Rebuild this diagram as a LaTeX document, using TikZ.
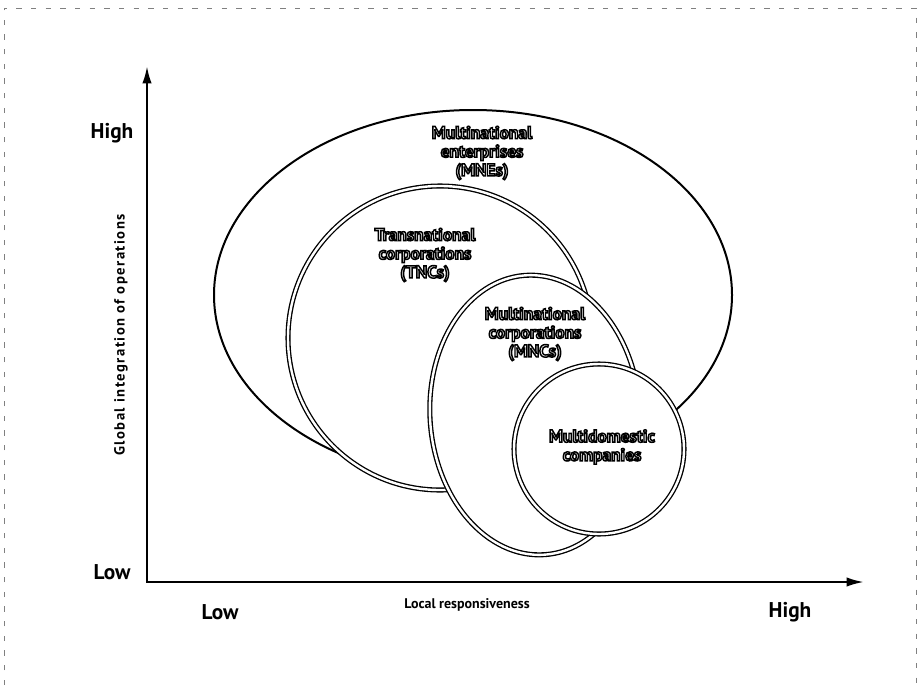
\documentclass[tikz,border=0pt]{standalone}
\usepackage{fontspec}
\setmainfont{PT Sans}
\usetikzlibrary{arrows.meta}
% white letters with a black outline, one line at a time
\newcommand\outlined[1]{{\color{white}\special{pdf:literal direct q 0 G 2 Tr 1.1 w}#1\special{pdf:literal direct Q}}}

\begin{document}
\begin{tikzpicture}[x=0.75pt,y=-0.75pt,
  axis/.style={line width=1.7pt,{Latex[length=13pt,width=7pt]}-{Latex[length=13pt,width=7pt]}},
  level/.style={font=\bfseries\fontsize{16}{19}\selectfont},
  caption/.style={font=\bfseries\fontsize{10.5}{12}\selectfont},
  group/.style={font=\bfseries\fontsize{13}{14}\selectfont,align=center,inner sep=0pt},
  ring/.style={fill=white,draw=black,line width=1pt,double=white,double distance=1.8pt}]
  \useasboundingbox (0,0) rectangle (919,685);
  % edge of the scanned page
  \draw[gray,line width=0.4pt,dash pattern=on 4pt off 7pt] (4,685) -- (4,8) -- (916,8) -- (916,685);
  % nested groups, outside in
  \draw[fill=white,line width=1.5pt] (473,295) ellipse [x radius=259,y radius=185];
  \draw[ring] (440,338) circle [radius=152];
  \draw[ring,rotate around={4:(535,415)}] (535,415) ellipse [x radius=105,y radius=140];
  \draw[ring] (599,449) circle [radius=85];
  \node[group] (mne) at (482,153) {\outlined{Multinational}\\\outlined{enterprises}\\\outlined{(MNEs)}};
  \node[group] (tnc) at (425,255) {\outlined{Transnational}\\\outlined{corporations}\\\outlined{(TNCs)}};
  \node[group] (mnc) at (535,334) {\outlined{Multinational}\\\outlined{corporations}\\\outlined{(MNCs)}};
  \node[group] (mdc) at (602,447) {\outlined{Multidomestic}\\\outlined{companies}};
  % axes
  \coordinate (origin) at (147,582);
  \coordinate (ytip) at (147,66);
  \coordinate (xtip) at (864,582);
  \draw[axis] (ytip) |- (xtip);
  \node[level] (yhigh) at (112,133) {High};
  \node[level] (ylow) at (112,572) {Low};
  \node[level] (xlow) at (220,612) {Low};
  \node[level] (xhigh) at (790,612) {High};
  \node[caption] (xname) at (467,605) {Local responsiveness};
  \node[caption,rotate=90,font=\bfseries\fontsize{11}{12}\selectfont\addfontfeature{LetterSpace=10}] (yname) at (121,335) {Global integration of operations};
\end{tikzpicture}
\end{document}
